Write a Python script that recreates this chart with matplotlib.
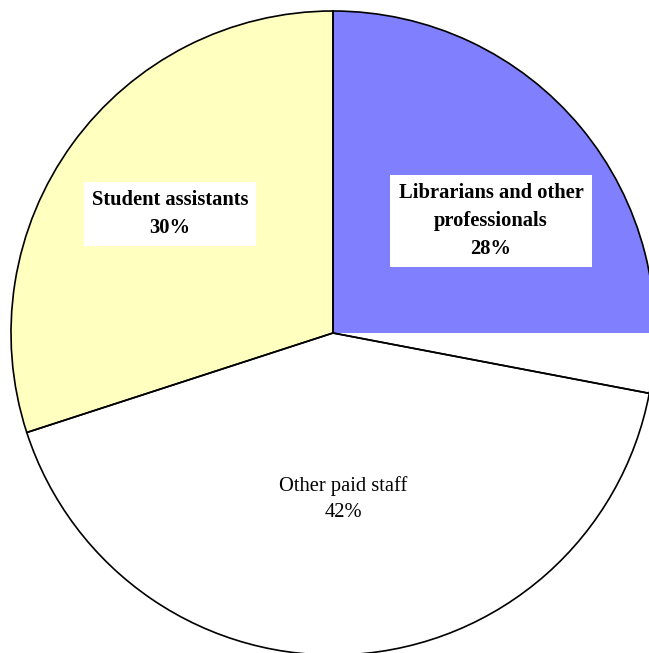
import matplotlib
matplotlib.use("Agg")
import matplotlib.pyplot as plt
from matplotlib.patches import Polygon

# Données du graphique
categorias = ["Librarians and other\nprofessionals", "Other paid staff", "Student assistants"]
percentuais = [28, 42, 30]
cores = ["#8080FF", "#FFFFFF", "#FFFFC0"]
negrito = [True, False, True]
com_caixa = [True, False, True]

# Geometria (pixels)
largura, altura = 649, 653
centro = (333, altura - 333)
raio = 322
posicoes_rotulos = [(491, altura - 221), (343, altura - 499), (170, altura - 214)]

fig = plt.figure(figsize=(largura / 100, altura / 100), dpi=100)
ax = fig.add_axes([0, 0, 1, 1])

# Preenchimento das fatias
fatias, _ = ax.pie(percentuais, colors=cores, startangle=90, counterclock=False,
                   center=centro, radius=raio, frame=True,
                   wedgeprops=dict(linewidth=0))

# Contornos
ax.pie(percentuais, colors=["none"] * 3, startangle=90, counterclock=False,
       center=centro, radius=raio, frame=True,
       wedgeprops=dict(linewidth=1.2, edgecolor="black", facecolor="none"))
ax.set_xlim(0, largura)
ax.set_ylim(0, altura)
ax.set_aspect("equal")
ax.axis("off")

# o azul original só vai até a horizontal do centro
recorte = Polygon([(0, centro[1]), (largura, centro[1]), (largura, altura), (0, altura)],
                  closed=True, transform=ax.transData)
fatias[0].set_clip_on(True)
fatias[0].set_clip_path(recorte)

for cat, pct, pos, bold, caixa in zip(categorias, percentuais, posicoes_rotulos, negrito, com_caixa):
    bbox = dict(boxstyle="square,pad=0.4", facecolor="white", edgecolor="none") if caixa else None
    ax.text(pos[0], pos[1], f"{cat}\n{pct}%", ha="center", va="center",
            fontsize=14.8, family="Liberation Serif",
            fontweight="bold" if bold else "normal",
            linespacing=1.5, bbox=bbox)

fig.savefig("out.png", dpi=100)
